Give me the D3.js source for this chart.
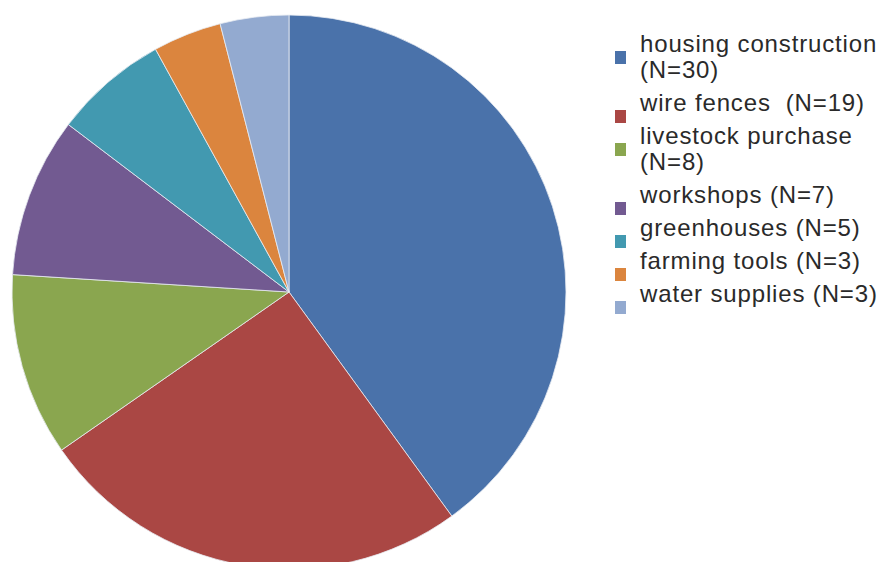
<!DOCTYPE html>
<html>
<head>
<meta charset="utf-8">
<script src="https://cdn.jsdelivr.net/npm/d3@7"></script>
<style>
  body { margin: 0; background: #fff; }
  svg text { font-family: "Liberation Sans", Arial, sans-serif; }
</style>
</head>
<body>
<svg class="pie" width="880" height="562"></svg>
<script>
// data
let categories = ["housing construction", "wire fences", "livestock purchase",
    "workshops", "greenhouses", "farming tools", "water supplies"];
let counts = [30, 19, 8, 7, 5, 3, 3];
// legend text, one array per entry (wrapped lines)
let legendLines = [
    ["housing construction", "(N=30)"],
    ["wire fences  (N=19)"],
    ["livestock purchase", "(N=8)"],
    ["workshops (N=7)"],
    ["greenhouses (N=5)"],
    ["farming tools (N=3)"],
    ["water supplies (N=3)"]
];
let colors = ["#4A72AA", "#AA4744", "#8AA64F", "#725A91", "#4299B0", "#DB853E", "#93AAD0"];

let svg = d3.select("svg.pie"),
    cx = 289, cy = 292, radius = 277;

let colorScale = d3.scaleOrdinal()
    .domain(categories)
    .range(colors);

let pieData = d3.pie()
    .sort(null)
    .value(d => d.n)(categories.map((c, i) => ({cat: c, n: counts[i]})));

let arc = d3.arc()
    .innerRadius(0)
    .outerRadius(radius);

let g = svg.append("g")
    .attr("transform", "translate(" + cx + "," + cy + ")");

g.selectAll("path")
    .data(pieData)
    .join("path")
    .attr("d", arc)
    .attr("fill", d => colorScale(d.data.cat))
    .attr("stroke", "#e8ecf2")
    .attr("stroke-width", 0.8);

// legend
let legendX = 615, textX = 640,
    firstBase = 52, lineH = 26, entryGap = 33;

let legend = svg.append("g").attr("class", "legend");
let y = firstBase;
legendLines.forEach((lines, i) => {
    let item = legend.append("g");
    item.append("rect")
        .attr("x", legendX)
        .attr("y", y - 1)
        .attr("width", 11)
        .attr("height", 13)
        .attr("fill", colorScale(categories[i]));
    lines.forEach((t, j) => {
        item.append("text")
            .attr("x", textX)
            .attr("y", y + j * lineH)
            .attr("font-size", "24px")
            .attr("letter-spacing", "0.85px")
            .attr("fill", "#2a2a2a")
            .style("white-space", "pre")
            .text(t);
    });
    y += (lines.length - 1) * lineH + entryGap;
});
</script>
</body>
</html>
